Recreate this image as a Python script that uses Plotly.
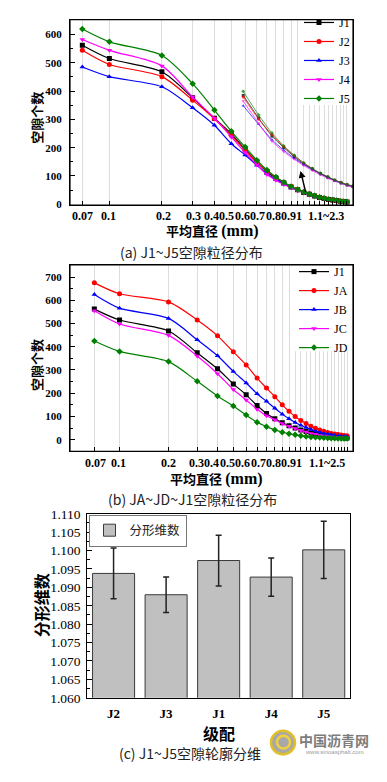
import math
import plotly.graph_objects as go

# ---------------- data ----------------
X_A = [0.07, 0.1, 0.2, 0.3, 0.4, 0.5, 0.6, 0.7, 0.8, 0.9, 1.0, 1.1, 1.2, 1.3, 1.4,
       1.5, 1.6, 1.7, 1.8, 1.9, 2.0, 2.1, 2.2, 2.3]
J1_A = [562, 515, 468, 376, 304, 249, 194, 150, 115, 93, 75, 61, 51, 42, 35, 29, 24, 20, 17, 15, 13, 11, 10, 8]
J2_A = [544, 494, 451, 368, 302, 244, 191, 148, 118, 95, 77, 63, 52, 43, 36, 30, 25, 21, 18, 15, 13, 11, 10, 8]
J3_A = [485, 451, 415, 341, 279, 214, 174, 138, 108, 88, 72, 60, 50, 42, 35, 29, 24, 20, 17, 15, 13, 11, 10, 8]
J4_A = [582, 544, 489, 379, 304, 238, 183, 140, 105, 85, 70, 58, 48, 40, 33, 28, 23, 19, 16, 14, 12, 10, 9, 8]
J5_A = [619, 574, 526, 426, 333, 258, 202, 156, 121, 96, 78, 63, 52, 43, 36, 30, 25, 21, 18, 15, 13, 11, 10, 9]

X_B = [0.07, 0.1, 0.2, 0.3, 0.4, 0.5, 0.6, 0.7, 0.8, 0.9, 1.0, 1.1, 1.2, 1.3, 1.4,
       1.5, 1.6, 1.7, 1.8, 1.9, 2.0, 2.1, 2.2, 2.3, 2.4, 2.5]
J1_B = [562, 515, 468, 374, 305, 240, 193, 147, 113, 90, 73, 60, 50, 42, 35, 29, 24, 20, 17, 15, 13, 11, 10, 9, 8, 7]
JA_B = [675, 628, 593, 515, 447, 378, 322, 265, 222, 185, 150, 122, 100, 83, 70, 58, 49, 42, 36, 31, 27, 24, 22, 20, 18, 17]
JB_B = [625, 566, 522, 430, 361, 294, 244, 198, 165, 135, 110, 90, 74, 62, 52, 44, 37, 32, 27, 24, 21, 18, 16, 15, 14, 13]
JC_B = [555, 498, 449, 360, 284, 216, 171, 131, 103, 86, 70, 58, 48, 40, 33, 27, 23, 19, 16, 14, 12, 10, 9, 8, 7, 7]
JD_B = [425, 380, 336, 251, 188, 145, 106, 75, 56, 42, 32, 26, 21, 17, 14, 12, 10, 9, 8, 7, 6, 6, 5, 5, 5, 5]

TICK_LABELS_A = ["0.07", "0.1", "0.2", "0.3", "0.4", "0.5", "0.6", "0.7", "0.8", "0.9", "1", "1.1~2.3"]
TICK_LABELS_B = ["0.07", "0.1", "0.2", "0.3", "0.4", "0.5", "0.6", "0.7", "0.8", "0.9", "1", "1.1~2.5"]

BAR_CATS = ["J2", "J3", "J1", "J4", "J5"]
BAR_VALS = [1.0938, 1.0880, 1.0973, 1.0928, 1.1002]
BAR_ERR = [0.0069, 0.0048, 0.0069, 0.0052, 0.0078]

# ---------------- layout helpers ----------------
W, H = 387, 782
def fx(p):
    return p / W
def fy(p):
    return 1 - p / H

SERIF = "Liberation Serif, Times New Roman, serif"
TITLEF = "Liberation Serif, Noto Sans CJK SC, serif"
CJK = "Noto Sans CJK SC, sans-serif"

COLORS = ["#000000", "#ff0000", "#0000ff", "#ff00ff", "#008000"]
SYMBOLS = ["square", "circle", "triangle-up", "triangle-down", "diamond"]

# tick-label pixel positions along the x axes (layout only)
LBL_PX_A = [82.5, 108.5, 163.5, 193, 211, 226.5, 242, 257.5, 273, 288.5, 299, 326]
LBL_PX_B = [95, 119, 168.5, 196.5, 211.5, 227, 242.5, 258, 273.4, 288.9, 299, 326.7]

fig = go.Figure()

names_a = ["J1", "J2", "J3", "J4", "J5"]
series_a = [J1_A, J2_A, J3_A, J4_A, J5_A]
for n, s, c, sym in zip(names_a, series_a, COLORS, SYMBOLS):
    fig.add_trace(go.Scatter(x=X_A, y=s, name=n, mode="lines+markers",
                             line=dict(color=c, width=1.2, shape="spline", smoothing=0.8),
                             marker=dict(symbol=sym, size=5, color=c),
                             xaxis="x", yaxis="y", legend="legend"))
# inset: magnified tail of panel (a)
for n, s, c, sym in zip(names_a, series_a, COLORS, SYMBOLS):
    fig.add_trace(go.Scatter(x=X_A[6:], y=s[6:], mode="lines+markers", showlegend=False,
                             line=dict(color=c, width=0.9, shape="spline", smoothing=0.8),
                             marker=dict(symbol=sym, size=3, color=c), opacity=0.75,
                             xaxis="x3", yaxis="y3"))

names_b = ["J1", "JA", "JB", "JC", "JD"]
series_b = [J1_B, JA_B, JB_B, JC_B, JD_B]
for n, s, c, sym in zip(names_b, series_b, COLORS, SYMBOLS):
    fig.add_trace(go.Scatter(x=X_B, y=s, name=n, mode="lines+markers",
                             line=dict(color=c, width=1.2, shape="spline", smoothing=0.8),
                             marker=dict(symbol=sym, size=5, color=c),
                             xaxis="x2", yaxis="y2", legend="legend2"))

fig.add_trace(go.Bar(x=BAR_CATS, y=BAR_VALS, name="分形维数",
                     marker=dict(color="#c0c0c0", line=dict(color="#3a3a3a", width=1)),
                     error_y=dict(type="data", array=BAR_ERR, color="#222222", thickness=1.5, width=3),
                     xaxis="x4", yaxis="y4", legend="legend3"))

dom_ax = [fx(70), fx(353)]
dom_ay = [fy(202), fy(13)]
dom_bx = [fx(70), fx(353)]
dom_by = [fy(453), fy(263)]
dom_cx = [fx(87.3), fx(350)]
dom_cy = [fy(704.3), fy(516.7)]

rng_ax = [math.log10(0.0595), math.log10(2.49)]
rng_bx = [math.log10(0.0496), math.log10(2.72)]

common_x = dict(type="log", showgrid=True, gridcolor="#dddddd",
                showline=True, linecolor="black", linewidth=1, mirror=True,
                ticks="inside", ticklen=4, tickcolor="black", zeroline=False)
common_y = dict(showgrid=False, showline=True, linecolor="black", linewidth=1, mirror=True,
                ticks="inside", ticklen=5, tickcolor="black", zeroline=False,
                tickfont=dict(family=SERIF, size=11, color="black", weight="bold"),
                ticklabelstandoff=5,
                minor=dict(ticks="inside", ticklen=3, tickcolor="black", dtick=50))
hidden = dict(showline=False, showgrid=False, zeroline=False, ticks="", showticklabels=False)

fig.update_layout(
    width=W, height=H, margin=dict(l=0, r=0, t=0, b=0),
    paper_bgcolor="white", plot_bgcolor="rgba(0,0,0,0)", showlegend=True,
    xaxis=dict(domain=dom_ax, range=rng_ax, anchor="y", tickvals=X_A,
               ticktext=[""] * len(X_A), **common_x),
    yaxis=dict(domain=dom_ay, range=[-3, 652], anchor="x", dtick=100, **common_y),
    xaxis2=dict(domain=dom_bx, range=rng_bx, anchor="y2", tickvals=X_B,
                ticktext=[""] * len(X_B), **common_x),
    yaxis2=dict(domain=dom_by, range=[-50, 752], anchor="x2", dtick=100, **common_y),
    xaxis3=dict(domain=dom_ax, type="log", range=[-0.976, 0.256], anchor="y3", **hidden),
    yaxis3=dict(domain=dom_ay, range=[-19, 341], anchor="x3", **hidden),
    xaxis4=dict(domain=dom_cx, anchor="y4", showline=True, linecolor="black", linewidth=1.2,
                mirror=True, ticks="", showgrid=False,
                tickfont=dict(family=SERIF, size=13, color="black", weight="bold"),
                ticklabelstandoff=4),
    yaxis4=dict(domain=dom_cy, range=[1.06, 1.11], anchor="x4", dtick=0.005, tickformat=".3f",
                showgrid=False, showline=True, linecolor="black", linewidth=1.2, mirror=True,
                ticks="inside", ticklen=5, tickcolor="black", zeroline=False,
                tickfont=dict(family=SERIF, size=13.5, color="black"),
                ticklabelstandoff=3,
                minor=dict(ticks="inside", ticklen=3, tickcolor="black", dtick=0.0025)),
    bargap=0.2,
    legend=dict(x=fx(299), y=fy(1), xanchor="left", yanchor="top", bgcolor="rgba(0,0,0,0)",
                borderwidth=0, font=dict(family=SERIF, size=12, color="black"),
                tracegroupgap=0),
    legend2=dict(x=fx(294), y=fy(255), xanchor="left", yanchor="top", bgcolor="rgba(0,0,0,0)",
                 borderwidth=0, font=dict(family=SERIF, size=12, color="black"),
                 tracegroupgap=0),
    legend3=dict(x=fx(88.5), y=fy(517.5), xanchor="left", yanchor="top", bgcolor="white",
                 bordercolor="#777777", borderwidth=1,
                 font=dict(family=CJK, size=12.5, color="#222222")),
)

ann = []
def text(x, y, t, size, family=TITLEF, angle=0, color="black"):
    ann.append(dict(x=fx(x), y=fy(y), xref="paper", yref="paper", text=t, showarrow=False,
                    xanchor="center", yanchor="middle", textangle=angle,
                    font=dict(family=family, size=size, color=color)))

# x tick labels (spread as in the original)
for p, t in zip(LBL_PX_A, TICK_LABELS_A):
    text(p, 213, "<b>%s</b>" % t, 12, family=SERIF)
for p, t in zip(LBL_PX_B, TICK_LABELS_B):
    text(p, 465, "<b>%s</b>" % t, 12, family=SERIF)

# axis titles
text(38, 113, "<b>空隙个数</b>", 13, angle=-90)
text(212, 228, "<b>平均直径 <span style='font-size:16px'>(mm)</span></b>", 13)
text(38, 365, "<b>空隙个数</b>", 13, angle=-90)
text(216, 481, "<b>平均直径 <span style='font-size:16px'>(mm)</span></b>", 13)
text(42, 610, "<b>分形维数</b>", 16, angle=-90)
text(219, 741, "<b>级配</b>", 16)
# captions
text(191, 250, "(a) J1~J5空隙粒径分布", 14, family=CJK, color="#222222")
text(192, 502, "(b) JA~JD~J1空隙粒径分布", 14, family=CJK, color="#222222")
text(190, 761, "(c) J1~J5空隙轮廓分维", 14, family=CJK, color="#222222")
# watermark
text(334, 747, "<b>中国沥青网</b>", 14, family=CJK, color="#7d7d7d")
text(334, 760, "www.sinoasphalt.com", 6, family="Liberation Sans, sans-serif", color="#9a9a9a")

# arrow in panel (a)
ann.append(dict(x=math.log10(1.245), y=118, ax=math.log10(1.34), ay=38, xref="x", yref="y",
                axref="x", ayref="y", text="", showarrow=True, arrowhead=2, arrowsize=1,
                arrowwidth=1.4, arrowcolor="black"))
fig.update_layout(annotations=ann)

# white backgrounds behind the legends of (a) and (b)
for x0, y0, y1 in ((298, 13.6, 100), (293, 263.6, 351)):
    fig.add_shape(type="rect", xref="paper", yref="paper", x0=fx(x0), x1=fx(352.4),
                  y0=fy(y1), y1=fy(y0), fillcolor="white", line=dict(width=0), layer="above")
# plot frames for panels (a) and (b)
for xr, yr in (("x domain", "y domain"), ("x2 domain", "y2 domain")):
    fig.add_shape(type="rect", xref=xr, yref=yr, x0=0, x1=1, y0=0, y1=1,
                  line=dict(color="black", width=1.2), fillcolor="rgba(0,0,0,0)", layer="above")

fig.add_shape(type="circle", xref="paper", yref="paper", x0=fx(271), x1=fx(295),
              y0=fy(762), y1=fy(738), fillcolor="#a8a8a8", line=dict(color="#e2bf2a", width=2.5))
fig.add_shape(type="circle", xref="paper", yref="paper", x0=fx(277), x1=fx(290),
              y0=fy(756), y1=fy(743), fillcolor="rgba(0,0,0,0)", line=dict(color="#f0d040", width=2.5))

fig.write_html("out.html", config={"displayModeBar": False},
               post_script="document.body.style.margin='0';")
